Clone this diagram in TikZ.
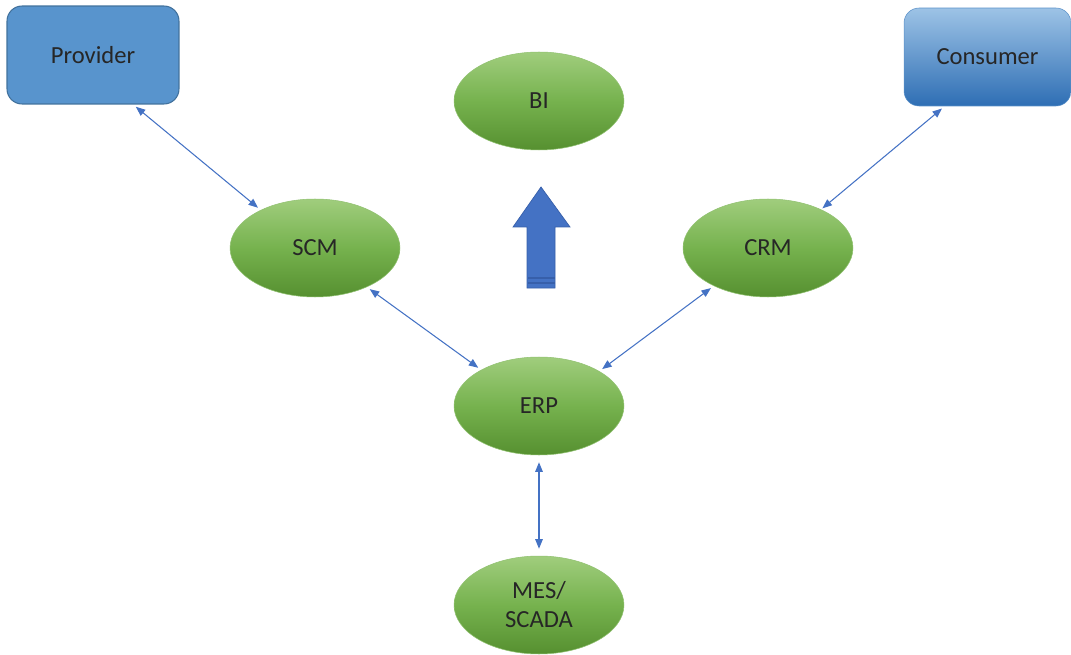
\documentclass[tikz,border=0pt]{standalone}
\usepackage{fontspec}
\setmainfont{Carlito}
\usetikzlibrary{shapes.geometric,arrows.meta,shadings}

\definecolor{linkblue}{RGB}{68,114,196}
\definecolor{boxblue}{RGB}{88,148,205}
\definecolor{boxedge}{RGB}{65,113,156}
\definecolor{gtop}{RGB}{160,205,125}
\definecolor{gmid}{RGB}{118,178,78}
\definecolor{gbot}{RGB}{86,144,48}
\definecolor{ctop}{RGB}{157,195,230}
\definecolor{cbot}{RGB}{46,110,180}
\definecolor{arrowfill}{RGB}{68,114,196}
\definecolor{arrowedge}{RGB}{55,95,170}

\tikzset{
  px/.style={x=0.02cm,y=-0.02cm},
  label text/.style={font=\fontsize{14}{16.5}\selectfont, text=black!85, align=center},
  system/.style={ellipse, label text, minimum width=3.4cm, minimum height=1.96cm,
    inner sep=0pt, top color=gtop, bottom color=gbot, middle color=gmid,
    draw=gmid!80!white, line width=0.3pt},
  partner/.style={rectangle, rounded corners=0.3cm, label text,
    minimum width=3.44cm, minimum height=1.96cm, inner sep=0pt},
  link/.style={draw=linkblue, line width=0.6pt,
    {Triangle[length=1.9mm,width=1.5mm]}-{Triangle[length=1.9mm,width=1.5mm]}},
}

\begin{document}
\begin{tikzpicture}[px]
  \useasboundingbox (0,0) rectangle (1071,655);

  % partners
  \node[partner, fill=boxblue, draw=boxedge, line width=0.6pt] (prov) at (93,55) {Provider};
  \node[partner, top color=ctop, bottom color=cbot, draw=cbot!60!ctop, line width=0.3pt,
        minimum width=3.34cm] (cons) at (987.5,57) {Consumer};

  % systems
  \node[system] (bi)  at (539,101) {BI};
  \node[system] (scm) at (315,248) {SCM};
  \node[system] (crm) at (768,248) {CRM};
  \node[system] (erp) at (539,406) {ERP};
  \node[system] (mes) at (539,605) {MES/\\SCADA};

  % block arrow from ERP level up to BI
  \fill[arrowfill, draw=arrowedge, line width=0.4pt]
    (541,187) -- (570,227) -- (555,227) -- (555,288) -- (527,288)
    -- (527,227) -- (513,227) -- cycle;
  \fill[arrowedge] (527.5,277) rectangle (554.5,279);
  \fill[arrowedge] (527.5,282) rectangle (554.5,283.5);

  % connectors
  \draw[link, shorten <=2pt, shorten >=2pt] (prov.-51) -- (scm.145);
  \draw[link, shorten <=2pt, shorten >=1pt] (cons.-131) -- (crm.36);
  \draw[link, shorten <=2pt, shorten >=2pt] (scm.-37) -- (erp.148);
  \draw[link, shorten <=2pt, shorten >=2pt] (crm.-145) -- (erp.30);
  \draw[link, shorten <=4pt, shorten >=4pt] (erp.south) -- (mes.north);
\end{tikzpicture}
\end{document}
